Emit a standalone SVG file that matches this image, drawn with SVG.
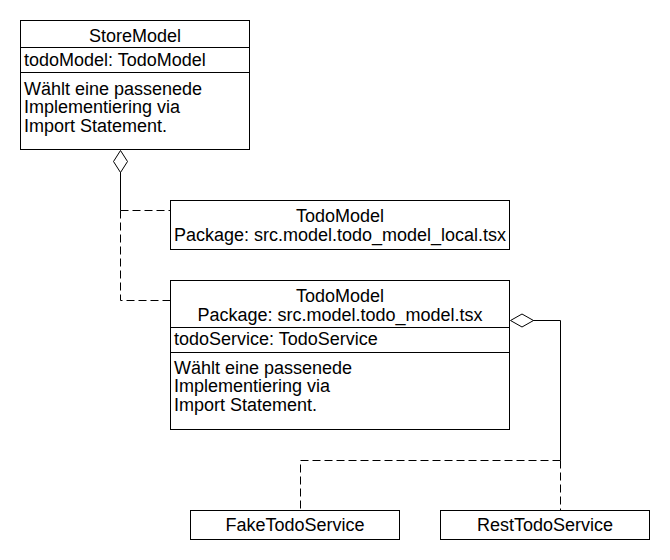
<svg xmlns="http://www.w3.org/2000/svg" width="670" height="560" viewBox="0 0 670 560">
<style>
.box{fill:#fff;stroke:#000;stroke-width:1}
.ln{fill:none;stroke:#000;stroke-width:1}
.dash{fill:none;stroke:#000;stroke-width:1;stroke-dasharray:8 4}
.dia{fill:#fff;stroke:#000;stroke-width:1}
text{font-family:"Liberation Sans",Arial,sans-serif;font-size:18px;fill:#000}
.c{text-anchor:middle}
</style>
<rect width="670" height="560" fill="#fff"/>
<g id="connectors">
<path class="ln" d="M120.5 172 V210.5"/>
<path class="dash" d="M120.5 210.5 H170"/>
<path class="dash" d="M120.5 210.5 V300.5 H170"/>
<polygon class="dia" points="120.5,150.5 127.5,161.5 120.5,172.5 113.5,161.5"/>
<path class="ln" d="M533 320.5 H560.5 V460.5"/>
<path class="dash" d="M560.5 460.5 H300.5 V510"/>
<path class="dash" d="M560.5 460.5 V510"/>
<polygon class="dia" points="510.5,320.5 522,314 533.5,320.5 522,327"/>
</g>
<g id="StoreModel">
<rect class="box" x="20.5" y="20.5" width="229" height="129"/>
<line class="ln" x1="20.5" y1="47.5" x2="249.5" y2="47.5"/>
<line class="ln" x1="20.5" y1="72.5" x2="249.5" y2="72.5"/>
<text class="c" x="135" y="42">StoreModel</text>
<text x="24" y="66">todoModel: TodoModel</text>
<text x="24" y="94.5">Wählt eine passenede</text>
<text x="24" y="113">Implementiering via</text>
<text x="24" y="131.5">Import Statement.</text>
</g>
<g id="TodoModelLocal">
<rect class="box" x="170.5" y="200.5" width="339" height="49"/>
<text class="c" x="340" y="221.5">TodoModel</text>
<text class="c" x="340" y="240.5">Package: src.model.todo_model_local.tsx</text>
</g>
<g id="TodoModel">
<rect class="box" x="170.5" y="280.5" width="339" height="149"/>
<line class="ln" x1="170.5" y1="327.5" x2="509.5" y2="327.5"/>
<line class="ln" x1="170.5" y1="352.5" x2="509.5" y2="352.5"/>
<text class="c" x="340" y="301.5">TodoModel</text>
<text class="c" x="340" y="320.5">Package: src.model.todo_model.tsx</text>
<text x="174" y="345">todoService: TodoService</text>
<text x="174" y="373.5">Wählt eine passenede</text>
<text x="174" y="392">Implementiering via</text>
<text x="174" y="410.5">Import Statement.</text>
</g>
<g id="FakeTodoService">
<rect class="box" x="190.5" y="510.5" width="209" height="29"/>
<text class="c" x="295" y="531">FakeTodoService</text>
</g>
<g id="RestTodoService">
<rect class="box" x="440.5" y="510.5" width="209" height="29"/>
<text class="c" x="545" y="531">RestTodoService</text>
</g>
</svg>
